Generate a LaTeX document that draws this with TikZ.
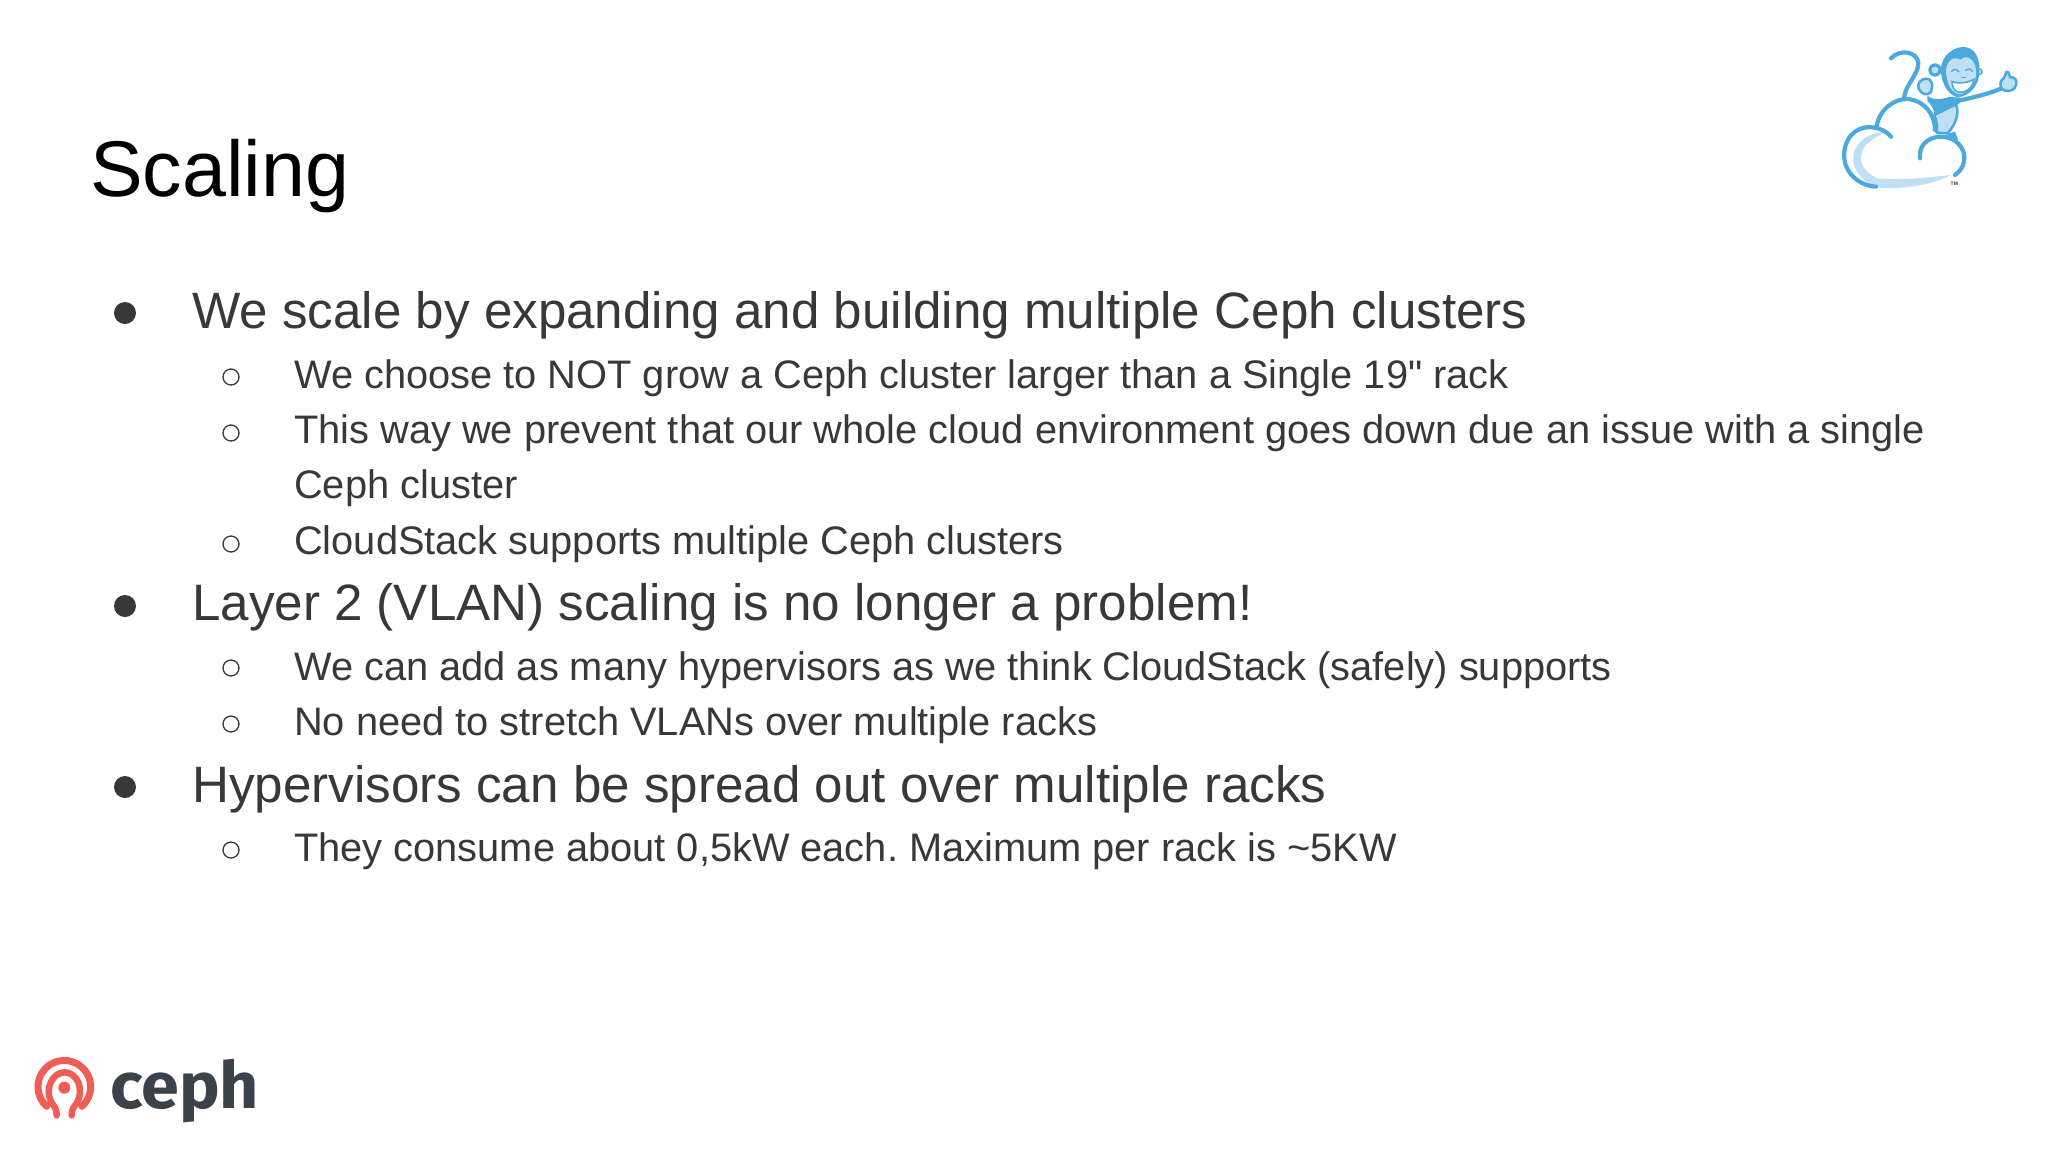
\documentclass[tikz,border=0pt]{standalone}
\usepackage{fontspec}
\newfontfamily\slidefont{Liberation Sans}
\newfontfamily\logofont{Fira Sans}
\definecolor{bodyGrey}{HTML}{383838}
\definecolor{monkeyBlue}{HTML}{4BA9DF}
\definecolor{monkeyPale}{HTML}{BFE0F3}
\definecolor{cephRed}{HTML}{EF5D55}
\definecolor{cephGrey}{HTML}{3C424A}
\frenchspacing
\tikzset{
	titleText/.style={anchor=base west, inner sep=0pt, text=black, font=\slidefont\fontsize{79}{90}\selectfont},
	mainText/.style={anchor=base west, inner sep=0pt, text=bodyGrey, font=\slidefont\fontsize{51.15}{60}\selectfont},
	subText/.style={anchor=base west, inner sep=0pt, text=bodyGrey, font=\slidefont\fontsize{39.8}{50}\selectfont},
	mainDotStyle/.style={fill=bodyGrey},
	subDotStyle/.style={draw=bodyGrey, line width=1.3pt},
	monkeyLine/.style={draw=monkeyBlue, line width=4.2pt, line cap=round, line join=round},
	monkeyPatch/.style={fill=monkeyPale, draw=monkeyBlue, line width=2.5pt, line join=round},
	cephLine/.style={draw=cephRed, line width=7pt, line cap=round}
}

\begin{document}
\begin{tikzpicture}[x=1pt,y=-1pt]

	%page, one unit is one pixel of the slide
	\useasboundingbox[fill=white] (0,0) rectangle (2048,1152);

	%declare constants
	\def\mainX{192}
	\def\subX{294}
	\def\mainDot{125}
	\def\subDot{231}

	%heading
	\node[titleText] (title) at (90,196) {Scaling};

	%first block
	\node[mainText] (scaleMain) at (\mainX,328) {We scale by expanding and building multiple Ceph clusters};
	\node[subText] (scaleGrow) at (\subX,388) {We choose to NOT grow a Ceph cluster larger than a Single 19" rack};
	\node[subText] (scaleWay) at (\subX,443) {This way we prevent that our whole cloud environment goes down due an issue with a single};
	\node[subText] (scaleWayEnd) at (\subX,498) {Ceph cluster};
	\node[subText] (scaleMulti) at (\subX,554) {CloudStack supports multiple Ceph clusters};

	%second block
	\node[mainText] (vlanMain) at (\mainX,620) {Layer 2 (VLAN) scaling is no longer a problem!};
	\node[subText] (vlanAdd) at (\subX,680) {We can add as many hypervisors as we think CloudStack (safely) supports};
	\node[subText] (vlanStretch) at (\subX,735) {No need to stretch VLANs over multiple racks};

	%third block
	\node[mainText] (rackMain) at (\mainX,802) {Hypervisors can be spread out over multiple racks};
	\node[subText] (rackPower) at (\subX,861) {They consume about 0,5kW each. Maximum per rack is \textasciitilde5KW};

	%bullets
	\fill[mainDotStyle] (\mainDot,313) circle (11);
	\fill[mainDotStyle] (\mainDot,606) circle (11);
	\fill[mainDotStyle] (\mainDot,787) circle (11);
	\draw[subDotStyle] (\subDot,377) circle (8);
	\draw[subDotStyle] (\subDot,433) circle (8);
	\draw[subDotStyle] (\subDot,544) circle (8);
	\draw[subDotStyle] (\subDot,668) circle (8);
	\draw[subDotStyle] (\subDot,724) circle (8);
	\draw[subDotStyle] (\subDot,850) circle (8);

	%cloud monkey, coordinates read off at three times the size
	\begin{scope}[shift={(1820,30)},x=0.3333pt,y=-0.3333pt]
		%pale shading
		\fill[monkeyPale] (195,306) .. controls (130,310) and (95,350) .. (100,395) .. controls (105,430) and (135,458) .. (170,472) .. controls (240,480) and (340,465) .. (392,435) .. controls (330,442) and (240,452) .. (170,445) .. controls (135,425) and (112,400) .. (128,360) .. controls (138,338) and (165,322) .. (195,306) -- cycle;
		%cloud
		\draw[monkeyLine] (213,320) .. controls (190,292) and (140,280) .. (105,305) .. controls (70,330) and (58,395) .. (95,435) .. controls (115,458) and (140,468) .. (168,470);
		\draw[monkeyLine] (170,288) .. controls (180,235) and (225,205) .. (265,207) .. controls (310,212) and (345,250) .. (345,300);
		\draw[monkeyLine] (300,385) .. controls (295,345) and (325,322) .. (360,320) .. controls (405,318) and (440,355) .. (432,395) .. controls (428,415) and (418,425) .. (405,435);
		%tail
		\draw[monkeyLine] (252,205) .. controls (255,165) and (295,135) .. (295,100) .. controls (293,65) and (240,55) .. (213,85);
		%body, shoulders and foot
		\filldraw[monkeyPatch] (342,255) -- (405,222) .. controls (422,240) and (408,285) .. (382,310) -- (350,308) .. controls (352,285) and (350,270) .. (342,255) -- cycle;
		\fill[monkeyBlue] (322,197) .. controls (340,212) and (365,208) .. (390,200) -- (435,205) -- (412,225) -- (345,258) .. controls (342,240) and (335,225) .. (322,212) -- cycle;
		\fill[monkeyBlue] (380,312) -- (405,305) -- (415,330) -- (395,325) -- cycle;
		%hand on the left and arm
		\filldraw[monkeyPatch] (316,146) .. controls (334,143) and (342,165) .. (332,187) .. controls (322,199) and (303,192) .. (296,176) .. controls (291,162) and (301,148) .. (316,146) -- cycle;
		\draw[monkeyLine] (425,210) .. controls (470,200) and (510,190) .. (545,175);
		%thumb up
		\filldraw[monkeyPatch] (545,150) .. controls (552,148) and (555,135) .. (560,125) .. controls (568,125) and (568,138) .. (570,142) .. controls (585,140) and (592,150) .. (588,165) .. controls (585,180) and (570,185) .. (555,182) .. controls (540,178) and (538,160) .. (545,150) -- cycle;
		%ears
		\fill[monkeyBlue] (345,120) circle (20);
		\fill[monkeyPale] (345,120) circle (10);
		\fill[monkeyBlue] (478,125) circle (11);
		\fill[monkeyPale] (478,125) circle (6);
		%head
		\fill[monkeyBlue] (362,118) .. controls (365,75) and (405,45) .. (440,52) .. controls (470,58) and (480,95) .. (478,120) .. controls (480,170) and (445,198) .. (415,202) .. controls (390,198) and (365,170) .. (362,118) -- cycle;
		\fill[monkeyPale] (378,125) .. controls (378,95) and (400,75) .. (422,90) .. controls (435,72) and (465,85) .. (468,120) .. controls (472,160) and (445,190) .. (418,193) .. controls (395,190) and (380,160) .. (378,125) -- cycle;
		%face
		\draw[monkeyBlue, line width=1.3pt, line cap=round] (395,124) .. controls (402,116) and (410,116) .. (417,126);
		\draw[monkeyBlue, line width=1.3pt, line cap=round] (437,122) .. controls (443,115) and (452,115) .. (457,124);
		\draw[monkeyBlue, line width=1.3pt, line cap=round] (425,142) -- (437,142);
		\filldraw[fill=white, draw=monkeyBlue, line width=1.6pt] (396,155) .. controls (420,162) and (445,158) .. (462,148) .. controls (458,175) and (435,190) .. (415,187) .. controls (402,182) and (396,170) .. (396,155) -- cycle;
		%trade mark
		\node[anchor=center, inner sep=0pt, text=bodyGrey, font=\slidefont\bfseries\fontsize{5}{6}\selectfont] (trademark) at (403,461) {TM};
	\end{scope}

	%ceph logo
	\begin{scope}[shift={(20,1040)},x=0.3333pt,y=-0.3333pt]
		\fill[cephRed] (133,143) circle (18);
		\draw[cephLine] (80,199) arc[start angle=132, end angle=408, radius=79];
		\draw[cephLine, line width=6.5pt] (110,226) .. controls (110,205) and (103,200) .. (96,190) .. controls (70,145) and (100,97) .. (133,97) .. controls (170,97) and (195,145) .. (170,190) .. controls (163,200) and (155,205) .. (155,226);
		\node[anchor=base west, inner sep=0pt, text=cephGrey, xscale=1.05, font=\logofont\bfseries\fontsize{65}{72}\selectfont] (cephName) at (270,205) {ceph};
	\end{scope}

\end{tikzpicture}
\end{document}
